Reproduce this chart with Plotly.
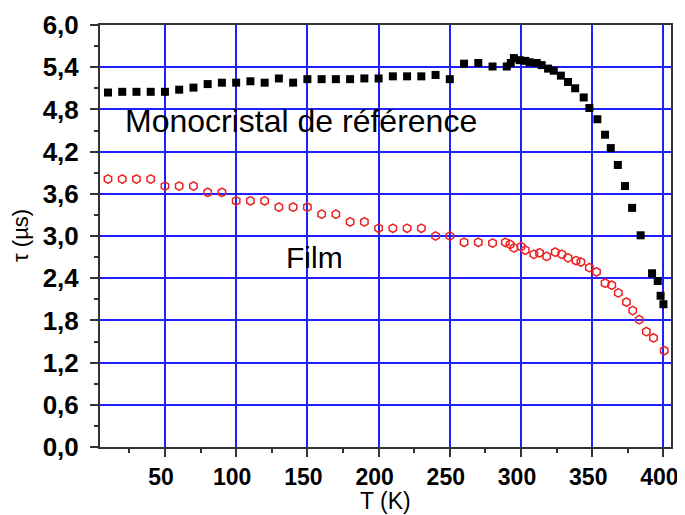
import plotly.graph_objects as go

# Monocristal de référence (black squares)
T_mono = [10, 20, 30, 40, 50, 60, 70, 80, 90, 100, 110, 120, 130, 140, 150, 160, 170, 180,
          190, 200, 210, 220, 230, 240, 250, 260, 270, 280, 290, 292.8, 295, 299, 303, 306,
          311, 314.5, 319, 323, 328, 333, 338, 344, 348, 353.6, 359, 363, 368, 373, 378,
          384, 392, 396, 398, 400]
tau_mono = [5.04, 5.05, 5.05, 5.05, 5.05, 5.08, 5.11, 5.16, 5.18, 5.18, 5.20, 5.18, 5.24,
            5.18, 5.23, 5.23, 5.23, 5.23, 5.24, 5.24, 5.27, 5.27, 5.27, 5.29, 5.23, 5.45,
            5.46, 5.41, 5.41, 5.46, 5.53, 5.50, 5.49, 5.47, 5.46, 5.43, 5.38, 5.35, 5.28,
            5.19, 5.10, 4.97, 4.82, 4.66, 4.44, 4.25, 4.01, 3.71, 3.40, 3.01, 2.47, 2.36,
            2.15, 2.03]

# Film (red open markers)
T_film = [10, 20, 30, 40, 50, 60, 70, 80, 90, 100, 110, 120, 130, 140, 150, 160, 170, 180,
          190, 200, 210, 220, 230, 240, 250, 260, 270, 280, 289, 292.3, 295, 300, 303, 309,
          313, 318, 324, 328.6, 333, 338.6, 342, 348, 353, 359, 363.7, 368.3, 374, 378.4,
          383, 388, 393, 400.5]
tau_film = [3.81, 3.81, 3.81, 3.81, 3.71, 3.71, 3.71, 3.62, 3.62, 3.50, 3.50, 3.50, 3.41,
            3.41, 3.41, 3.31, 3.31, 3.20, 3.20, 3.11, 3.11, 3.11, 3.11, 3.00, 3.00, 2.91,
            2.91, 2.90, 2.91, 2.88, 2.83, 2.85, 2.80, 2.74, 2.76, 2.71, 2.77, 2.74, 2.69,
            2.65, 2.63, 2.55, 2.49, 2.33, 2.30, 2.19, 2.06, 1.94, 1.81, 1.64, 1.55, 1.37]

x_title = "T (K)"
y_title = "τ (µs)"
label_mono = "Monocristal de référence"
label_film = "Film"

FONT = "Liberation Sans, Arial, sans-serif"
GRID = "#1f1fff"

fig = go.Figure()
fig.add_trace(go.Scatter(x=T_mono, y=tau_mono, mode="markers", name=label_mono,
                         marker=dict(symbol="square", size=8, color="black",
                                     line=dict(width=0))))
fig.add_trace(go.Scatter(x=T_film, y=tau_film, mode="markers", name=label_film,
                         marker=dict(symbol="hexagon-open", size=8.5, color="#ee2020",
                                     line=dict(width=1.5, color="#ee2020"))))

fig.add_annotation(x=145.5, y=4.64, xref="x", yref="y", text=label_mono, showarrow=False,
                   xanchor="center", yanchor="middle",
                   font=dict(family=FONT, size=32, color="black"))
fig.add_annotation(x=155.3, y=2.69, xref="x", yref="y", text=label_film, showarrow=False,
                   xanchor="center", yanchor="middle",
                   font=dict(family=FONT, size=30, color="black"))

# axis titles
fig.add_annotation(x=0.5, y=0, xref="paper", yref="paper", text=x_title, showarrow=False,
                   xanchor="center", yanchor="middle", yshift=-54,
                   font=dict(family=FONT, size=23, color="black"))
fig.add_annotation(x=0, y=0.5, xref="paper", yref="paper", text=y_title, showarrow=False,
                   xanchor="center", yanchor="middle", xshift=-80, textangle=-90,
                   font=dict(family=FONT, size=22, color="black"))

fig.update_layout(
    width=677, height=507,
    margin=dict(l=92, r=14, t=17, b=68, autoexpand=False),
    paper_bgcolor="white", plot_bgcolor="white",
    showlegend=False,
    separators=", ",
    font=dict(family=FONT, color="black"),
)
fig.update_xaxes(
    range=[4.4, 405.3], tick0=0, dtick=50,
    showgrid=True, gridcolor=GRID, gridwidth=1.5,
    showline=True, linecolor="#333", linewidth=2, mirror=True,
    ticks="outside", ticklen=8, tickwidth=1.5, tickcolor="#333",
    minor=dict(ticks="outside", ticklen=4, tick0=0, dtick=25, tickcolor="#333", showgrid=False),
    tickfont=dict(family=FONT, size=23, weight="bold", color="black"),
    ticklabeloverflow="allow", ticklabelshift=-4,
    zeroline=False, automargin=False,
)
fig.update_yaxes(
    range=[0, 6], tick0=0, dtick=0.6, tickformat=".1f",
    showgrid=True, gridcolor=GRID, gridwidth=1.5,
    showline=True, linecolor="#333", linewidth=2, mirror=True,
    ticks="outside", ticklen=8, tickwidth=1.5, tickcolor="#333",
    minor=dict(ticks="outside", ticklen=4, tick0=0, dtick=0.3, tickcolor="#333", showgrid=False),
    tickfont=dict(family=FONT, size=26, weight="bold", color="black"),
    ticklabeloverflow="allow", ticklabelstandoff=6,
    zeroline=False, automargin=False,
)

fig.write_html("out.html")
